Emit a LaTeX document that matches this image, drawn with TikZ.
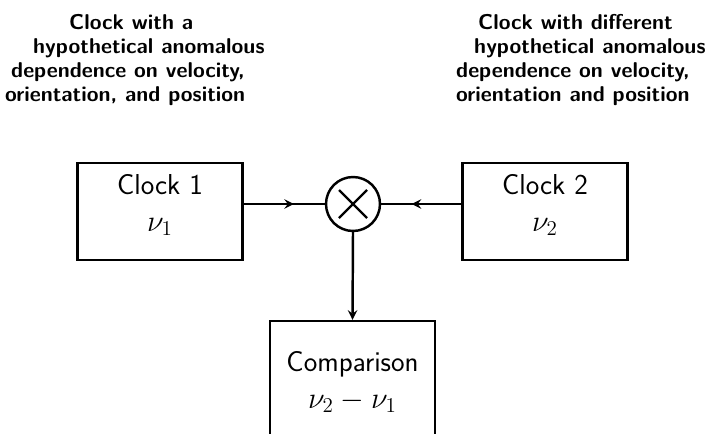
\documentclass[tikz,border=0pt]{standalone}
\usetikzlibrary{decorations.markings}
\begin{document}
\begin{tikzpicture}[>=stealth, x=0.02cm, y=-0.02cm, line width=1.4pt,
  clockbox/.style={draw, minimum width=3.3cm, minimum height=1.94cm, inner sep=0pt},
  boxtext/.style={align=center, inner sep=0pt, font=\sffamily\fontsize{16.4}{21}\selectfont},
  note/.style={anchor=north west, align=left, inner sep=0pt, font=\sffamily\bfseries\fontsize{12.2}{13.6}\selectfont},
  midarrow/.style={postaction={decorate}, decoration={markings, mark=at position 0.62 with {\arrow{stealth}}}}]
\useasboundingbox (0,0) rectangle (710,433);
\clip (0,0) rectangle (710,433);
% descriptions above the clocks
\node[note] (d1) at (4,13) {\hspace*{1.28cm}Clock with a\\\hspace*{0.56cm}hypothetical anomalous\\\hspace*{0.12cm}dependence on velocity,\\orientation, and position};
\node[note] (d2) at (455,13) {\hspace*{0.44cm}Clock with different\\\hspace*{0.36cm}hypothetical anomalous\\dependence on velocity,\\orientation and position};
% clocks and comparison
\node[clockbox] (c1) at (160,211.5) {};
\node[boxtext] (c1t) at (160,205) {Clock 1\\$\nu_1$};
\node[clockbox] (c2) at (545,211.5) {};
\node[boxtext] (c2t) at (545,205) {Clock 2\\$\nu_2$};
\node[draw, circle, minimum size=1.08cm, inner sep=0pt] (mix) at (353,204) {};
\draw (mix.center) +(-14,-14) -- +(14,14);
\draw (mix.center) +(-14,14) -- +(14,-14);
\node[clockbox, minimum height=2.48cm] (cmp) at (352.5,383) {};
\node[boxtext] (cmpt) at (352.5,382) {Comparison\\$\nu_2-\nu_1$};
\draw[midarrow] (c1.east |- mix) -- (mix.west);
\draw[midarrow] (c2.west |- mix) -- (mix.east);
\draw[->] (mix.south) -- (cmp.north);
\end{tikzpicture}
\end{document}
